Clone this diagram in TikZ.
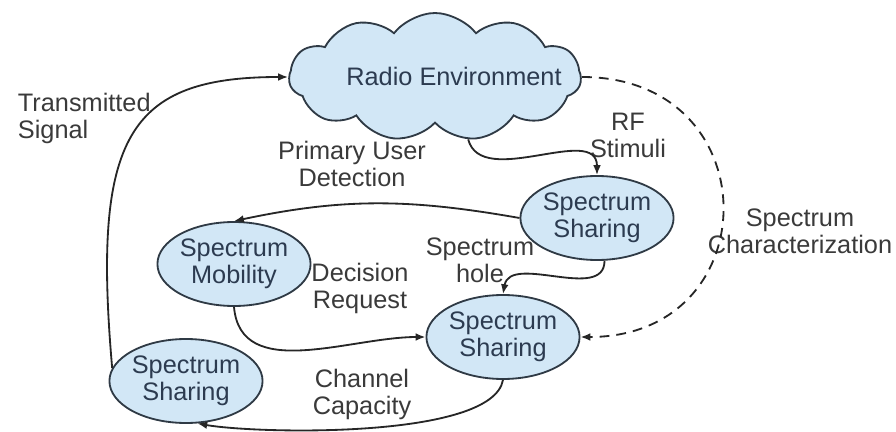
\documentclass[tikz,border=0pt]{standalone}
\usepackage{fontspec}
\setmainfont{Liberation Sans}
\usetikzlibrary{arrows.meta}
\usetikzlibrary{shapes.geometric,shapes.symbols}

\definecolor{skyfill}{HTML}{D2E7F6}
\definecolor{rimgray}{HTML}{2F3A45}
\definecolor{inktext}{HTML}{2C3B50}
\definecolor{labeltext}{HTML}{3A3A3A}

\tikzset{
  blob/.style={ellipse, draw=rimgray, fill=skyfill, line width=1.3pt,
    inner sep=0pt, minimum height=2.1cm, align=center, text=inktext},
  puff/.style={cloud, cloud puffs=11, cloud puff arc=105, aspect=2.3,
    cloud ignores aspect, draw=rimgray, fill=skyfill, line width=1.3pt,
    minimum width=7.3cm, minimum height=3.2cm, inner sep=0pt},
  tag/.style={align=center, text=labeltext},
  link/.style={->, line width=1.3pt, draw=black!85},
}

\begin{document}
\begin{tikzpicture}[>={Latex[length=7pt,width=5.5pt]}, font=\fontsize{18}{19.2}\selectfont]
\useasboundingbox (0,0) rectangle (22.4,-10.8);
% cloud and ellipses
\node (env) [puff] at (10.875,-1.925) {};
\node (envtext) [text=inktext] at (11.35,-1.9) {Radio Environment};
\node (sharetop) [blob] at (14.925,-5.45) {Spectrum\\Sharing};
\node (mobility) [blob] at (5.85,-6.6) {Spectrum\\Mobility};
\node (sharemid) [blob] at (12.575,-8.425) {Spectrum\\Sharing};
\node (sharelow) [blob] at (4.65,-9.525) {Spectrum\\Sharing};
% labels
\node (txlabel) [tag, align=left, anchor=west] at (0.325,-2.95) {Transmitted\\Signal};
\node (rflabel) [tag] at (15.7,-3.375) {RF\\Stimuli};
\node (pudlabel) [tag] at (8.8,-4.1) {Primary User\\Detection};
\node (charlabel) [tag] at (20.0,-5.775) {Spectrum\\Characterization};
\node (holelabel) [tag] at (12.0,-6.5) {Spectrum\\hole};
\node (declabel) [tag] at (9.0,-7.2) {Decision\\Request};
\node (caplabel) [tag] at (9.05,-9.85) {Channel\\Capacity};
% connectors
\draw[link] (sharelow.170) .. controls +(95:5.8) and +(180:4) .. (env.west);
\draw[link] (env.-62) to[out=-75,in=90] (sharetop.north);
\draw[link] (sharetop.west) to[out=170,in=12] (mobility.north);
\draw[link] (sharetop.-80) to[out=-90,in=80] (sharemid.north);
\draw[link] (mobility.south) to[out=-85,in=180] (sharemid.west);
\draw[link, dash pattern=on 7pt off 5pt] (env.east) to[out=0,in=0,looseness=1.85] (sharemid.east);
\draw[link] (sharemid.south) to[out=-100,in=-10,looseness=0.5] (sharelow.-75);
\end{tikzpicture}
\end{document}
